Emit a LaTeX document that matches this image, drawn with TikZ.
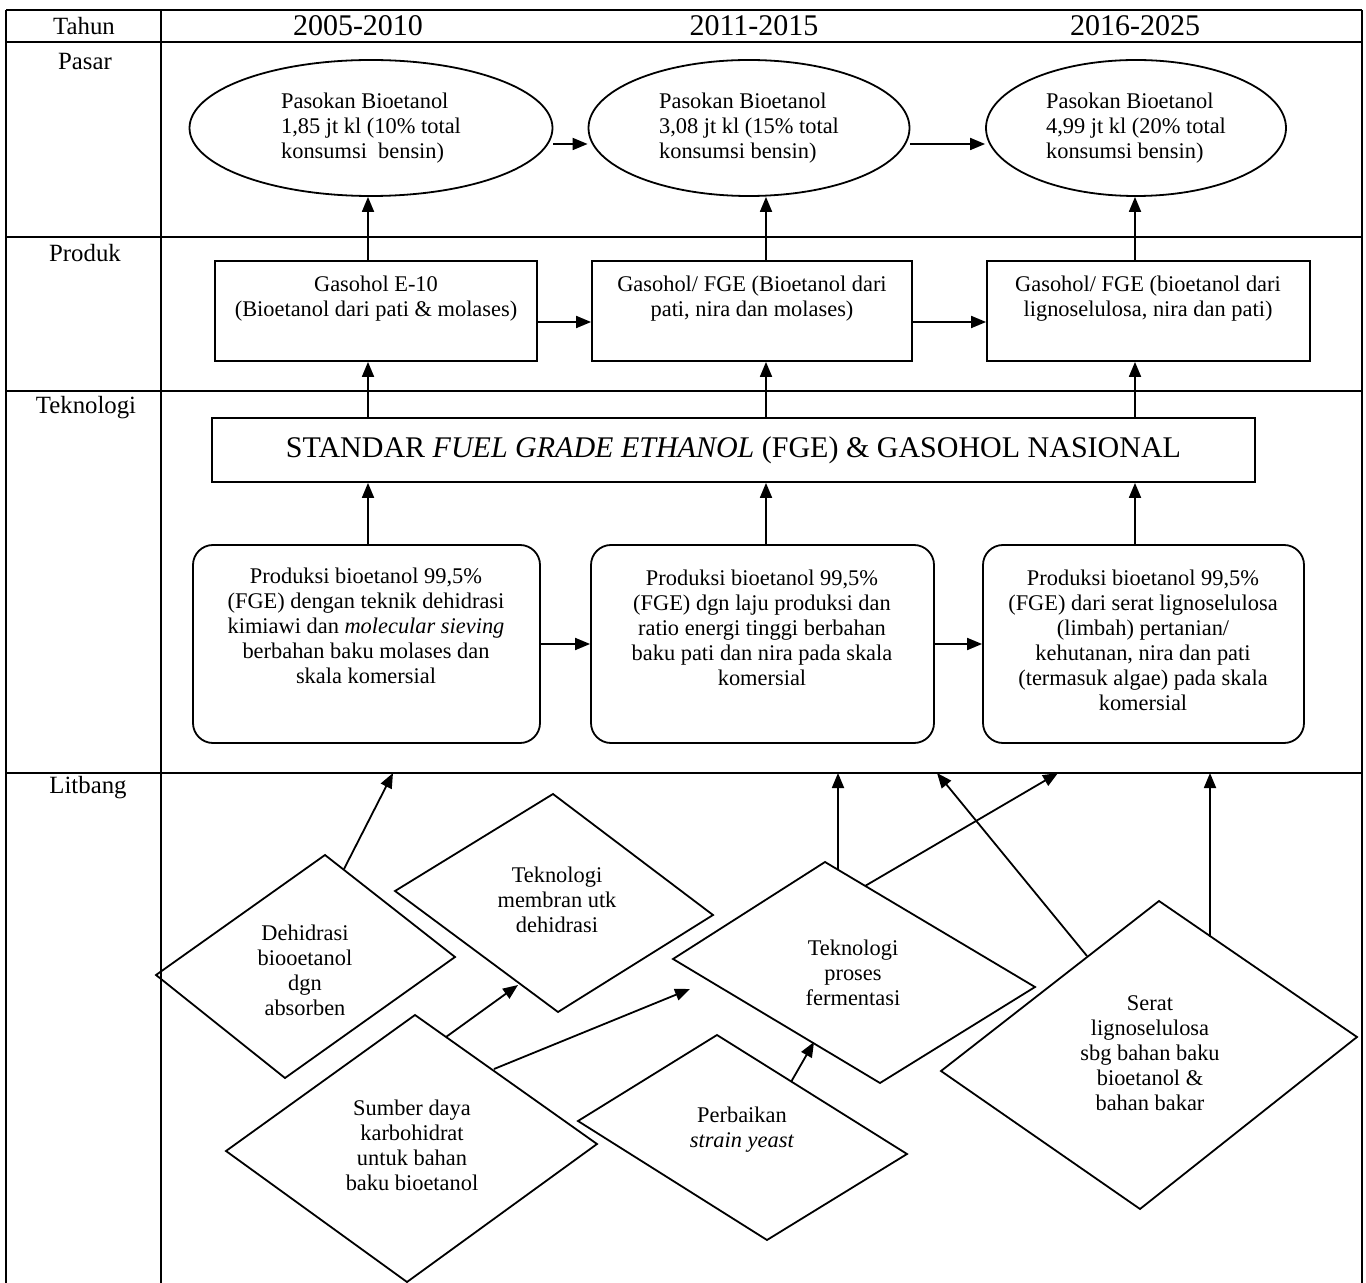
\documentclass[tikz,border=0pt]{standalone}
\usepackage{fontspec}
\setmainfont{Liberation Serif}
\usetikzlibrary{shapes.geometric,arrows.meta}
\begin{document}
\begin{tikzpicture}[x=0.5pt,y=-0.5pt]
\tikzset{
  ln/.style={line width=0.9pt},
  arr/.style={line width=0.9pt,-{Triangle[length=7.5pt,width=6pt]}},
  txt/.style={font=\fontsize{11.2}{12.5}\selectfont,align=center,inner sep=0pt},
  rowlbl/.style={font=\fontsize{12.4}{14}\selectfont,inner sep=0pt},
  yearlbl/.style={font=\fontsize{15}{17}\selectfont,inner sep=0pt},
  ell/.style={ellipse,draw,line width=0.9pt,inner sep=0pt,align=left,font=\fontsize{11.2}{12.5}\selectfont,minimum height=68pt},
  pbox/.style={rectangle,draw,line width=0.9pt,inner sep=0pt,minimum height=50pt},
  rbox/.style={rectangle,draw,line width=0.9pt,rounded corners=10pt,inner sep=0pt,minimum height=99pt},
  dia/.style={line width=0.9pt,line join=miter}
}
\useasboundingbox (0,0) rectangle (1366,1283);
\fill[white] (0,0) rectangle (1366,1283);

% table grid
\draw[ln] (6,10) -- (1362,10);
\draw[ln] (6,42) -- (1362,42);
\draw[ln] (6,237) -- (1362,237);
\draw[ln] (6,391) -- (1362,391);
\draw[ln] (6,773) -- (1362,773);
\draw[ln] (6,10) -- (6,1283);
\draw[ln] (161,10) -- (161,1283);
\draw[ln] (1362,10) -- (1362,1283);

% row labels
\node[rowlbl] (tahun) at (84,26) {Tahun};
\node[rowlbl] (pasar) at (85,62) {Pasar};
\node[rowlbl] (produk) at (85,253) {Produk};
\node[rowlbl] (teknologi) at (86,408) {Teknologi};
\node[rowlbl] (litbang) at (88,788) {Litbang};

% years
\node[yearlbl] (y1) at (358,26) {2005-2010};
\node[yearlbl] (y2) at (754,26) {2011-2015};
\node[yearlbl] (y3) at (1135,26) {2016-2025};

% column coordinates
\coordinate (c1) at (368,0);
\coordinate (c2) at (766,0);
\coordinate (c3) at (1135,0);

% Pasar
\node[ell,minimum width=181.5pt] (E1) at (371,128) {Pasokan Bioetanol\\1,85 jt kl (10\% total\\konsumsi\ \ bensin)};
\node[ell,minimum width=160.5pt] (E2) at (749,128) {Pasokan Bioetanol\\3,08 jt kl (15\% total\\konsumsi bensin)};
\node[ell,minimum width=150pt] (E3) at (1136,128) {Pasokan Bioetanol\\4,99 jt kl (20\% total\\konsumsi bensin)};
\draw[arr] ([yshift=-8pt]E1.east) -- ([yshift=-8pt]E2.west);
\draw[arr] ([yshift=-8pt]E2.east) -- ([yshift=-8pt]E3.west);

% Produk
\node[pbox,minimum width=161pt] (B1) at (376,311) {};
\node[pbox,minimum width=160pt] (B2) at (752,311) {};
\node[pbox,minimum width=161.5pt] (B3) at (1148.5,311) {};
\node[txt] (B1t) at (376,299) {Gasohol E-10\\(Bioetanol dari pati \& molases)};
\node[txt] (B2t) at (752,299) {Gasohol/ FGE (Bioetanol dari\\pati, nira dan molases)};
\node[txt] (B3t) at (1148,299) {Gasohol/ FGE (bioetanol dari\\lignoselulosa, nira dan pati)};
\draw[arr] ([yshift=-5.5pt]B1.east) -- ([yshift=-5.5pt]B2.west);
\draw[arr] ([yshift=-5.5pt]B2.east) -- ([yshift=-5.5pt]B3.west);
\draw[arr] (B1.north -| c1) -- (E1.south -| c1);
\draw[arr] (B2.north -| c2) -- (E2.south -| c2);
\draw[arr] (B3.north -| c3) -- (E3.south -| c3);

% Teknologi
\node[rectangle,draw,line width=0.9pt,minimum width=521.5pt,minimum height=32pt,inner sep=0pt,font=\fontsize{15}{17}\selectfont] (S) at (733.5,450) {STANDAR \textit{FUEL GRADE ETHANOL} (FGE) \& GASOHOL NASIONAL};
\draw[arr] (S.north -| c1) -- (B1.south -| c1);
\draw[arr] (S.north -| c2) -- (B2.south -| c2);
\draw[arr] (S.north -| c3) -- (B3.south -| c3);

\node[rbox,minimum width=173.5pt] (R1) at (366.5,644) {};
\node[rbox,minimum width=171.5pt] (R2) at (762.5,644) {};
\node[rbox,minimum width=160.5pt] (R3) at (1143.5,644) {};
\node[txt] (R1t) at (366,626) {Produksi bioetanol 99,5\%\\(FGE) dengan teknik dehidrasi\\kimiawi dan \textit{molecular sieving}\\berbahan baku molases dan\\skala komersial};
\node[txt] (R2t) at (762,628) {Produksi bioetanol 99,5\%\\(FGE) dgn laju produksi dan\\ratio energi tinggi berbahan\\baku pati dan nira pada skala\\komersial};
\node[txt] (R3t) at (1143,640) {Produksi bioetanol 99,5\%\\(FGE) dari serat lignoselulosa\\(limbah) pertanian/\\kehutanan, nira dan pati\\(termasuk algae) pada skala\\komersial};
\draw[arr] (R1.east) -- (R2.west);
\draw[arr] (R2.east) -- (R3.west);
\draw[arr] (R1.north -| c1) -- (S.south -| c1);
\draw[arr] (R2.north -| c2) -- (S.south -| c2);
\draw[arr] (R3.north -| c3) -- (S.south -| c3);

% Litbang diamonds (vertices: left, top, right, bottom)
\coordinate (d1l) at (156,975);  \coordinate (d1t) at (325,855);
\coordinate (d1r) at (455,957);  \coordinate (d1b) at (285,1078);
\coordinate (d2l) at (395,891);  \coordinate (d2t) at (553,794);
\coordinate (d2r) at (713,915);  \coordinate (d2b) at (558,1012);
\coordinate (d3l) at (226,1151); \coordinate (d3t) at (415,1015);
\coordinate (d3r) at (597,1144); \coordinate (d3b) at (407,1282);
\coordinate (d4l) at (673,959);  \coordinate (d4t) at (825,862);
\coordinate (d4r) at (1035,987); \coordinate (d4b) at (880,1083);
\coordinate (d5l) at (941,1071); \coordinate (d5t) at (1159,901);
\coordinate (d5r) at (1357,1037);\coordinate (d5b) at (1140,1209);
\coordinate (d6l) at (578,1121); \coordinate (d6t) at (717,1035);
\coordinate (d6r) at (907,1154); \coordinate (d6b) at (767,1240);

\draw[dia] (d1l) -- (d1t) -- (d1r) -- (d1b) -- cycle;
\draw[dia] (d2l) -- (d2t) -- (d2r) -- (d2b) -- cycle;
\draw[dia] (d3l) -- (d3t) -- (d3r) -- (d3b) -- cycle;
\draw[dia] (d4l) -- (d4t) -- (d4r) -- (d4b) -- cycle;
\draw[dia] (d5l) -- (d5t) -- (d5r) -- (d5b) -- cycle;
\draw[dia] (d6l) -- (d6t) -- (d6r) -- (d6b) -- cycle;

\node[txt] (D1) at (305,970) {Dehidrasi\\biooetanol\\dgn\\absorben};
\node[txt] (D2) at (557,900) {Teknologi\\membran utk\\dehidrasi};
\node[txt] (D3) at (412,1145) {Sumber daya\\karbohidrat\\untuk bahan\\baku bioetanol};
\node[txt] (D4) at (853,973) {Teknologi\\proses\\fermentasi};
\node[txt] (D5) at (1150,1053) {Serat\\lignoselulosa\\sbg bahan baku\\bioetanol \&\\bahan bakar};
\node[txt] (D6) at (742,1130) {Perbaikan\\\textit{strain yeast}};

% connector end points
\coordinate (a1s) at (344,869);  \coordinate (a1e) at (393,773);
\coordinate (a2s) at (446,1037); \coordinate (a2e) at (518,985);
\coordinate (a3s) at (494,1069); \coordinate (a3e) at (690,989);
\coordinate (a4s) at (838,870);  \coordinate (a4e) at (838,773);
\coordinate (a5s) at (865,886);  \coordinate (a5e) at (1058,773);
\coordinate (a6s) at (1087,956); \coordinate (a6e) at (937,773);
\coordinate (a7s) at (1210,937); \coordinate (a7e) at (1210,773);
\coordinate (a8s) at (791,1082); \coordinate (a8e) at (814,1042);

\draw[arr] (a1s) -- (a1e);
\draw[arr] (a2s) -- (a2e);
\draw[arr] (a3s) -- (a3e);
\draw[arr] (a4s) -- (a4e);
\draw[arr] (a5s) -- (a5e);
\draw[arr] (a6s) -- (a6e);
\draw[arr] (a7s) -- (a7e);
\draw[arr] (a8s) -- (a8e);
\end{tikzpicture}
\end{document}
